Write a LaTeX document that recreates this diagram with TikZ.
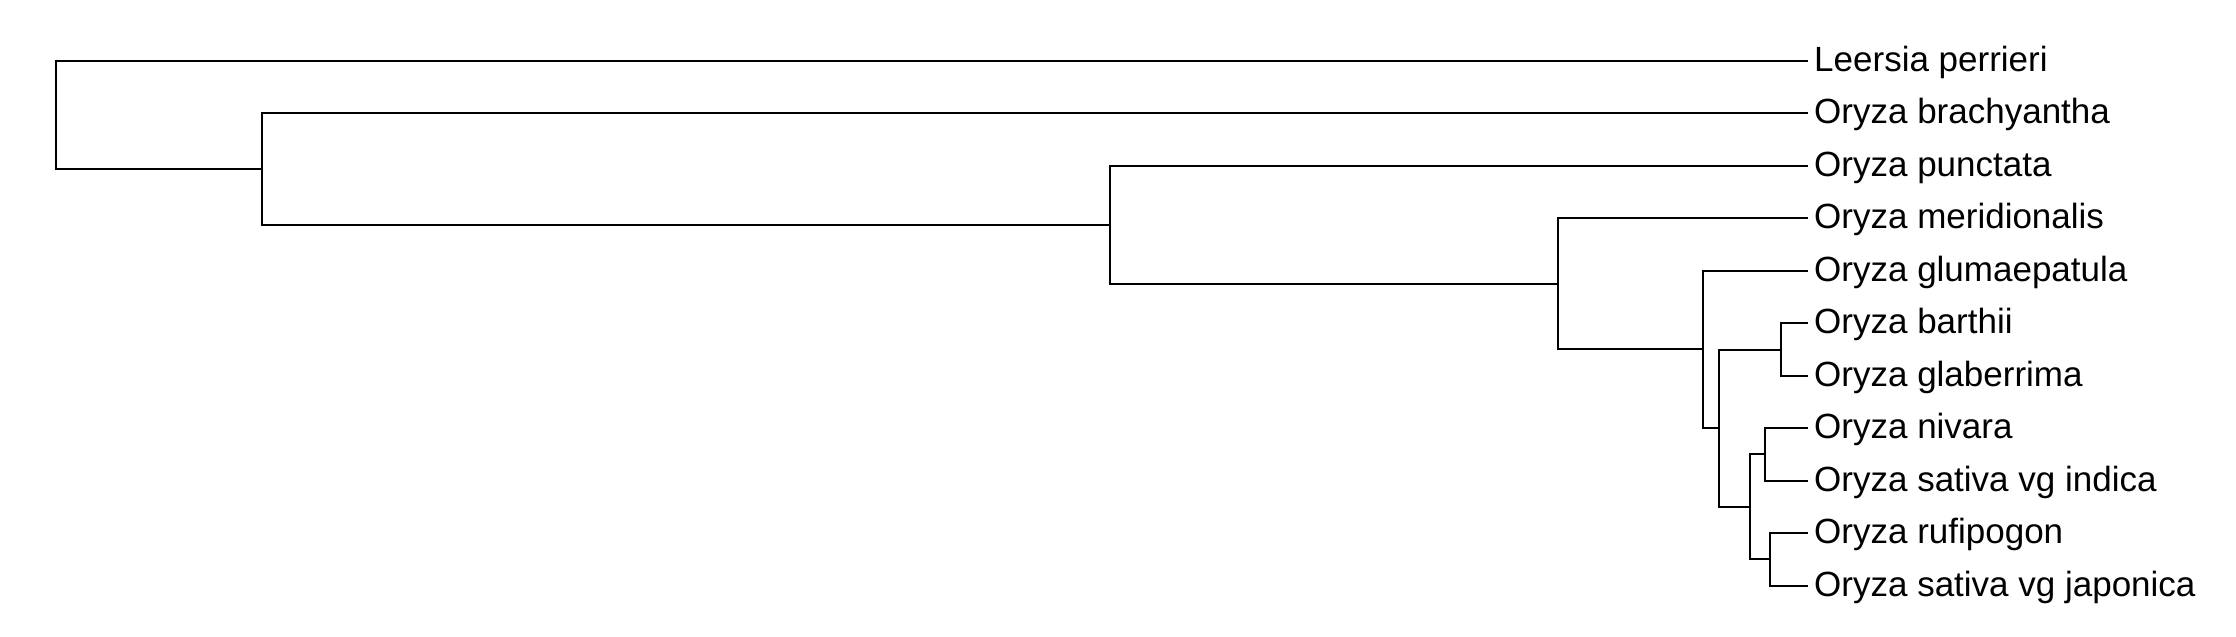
\documentclass[tikz,border=0pt]{standalone}
\usepackage{fontspec}
\setmainfont{Liberation Sans}
\begin{document}
\begin{tikzpicture}[x=1pt,y=-1pt,
  branch/.style={line width=2pt,line cap=rect},
  taxon/.style={anchor=west,inner xsep=7pt,inner ysep=0pt,
    text height=25pt,text depth=4pt,font=\fontsize{35}{42}\selectfont}]
\useasboundingbox (0,0) rectangle (2236,637);
% leaves, tips at x=1807
\node[taxon] (lper) at (1807,61) {Leersia perrieri};
\node[taxon] (obra) at (1807,113) {Oryza brachyantha};
\node[taxon] (opun) at (1807,166) {Oryza punctata};
\node[taxon] (omer) at (1807,218) {Oryza meridionalis};
\node[taxon] (oglu) at (1807,271) {Oryza glumaepatula};
\node[taxon] (obar) at (1807,323) {Oryza barthii};
\node[taxon] (ogla) at (1807,376) {Oryza glaberrima};
\node[taxon] (oniv) at (1807,428) {Oryza nivara};
\node[taxon] (oind) at (1807,481) {Oryza sativa vg indica};
\node[taxon] (oruf) at (1807,533) {Oryza rufipogon};
\node[taxon] (ojap) at (1807,586) {Oryza sativa vg japonica};
% internal nodes
\coordinate (root) at (56,115);
\coordinate (n2) at (262,169);
\coordinate (n3) at (1110,225);
\coordinate (n4) at (1558,284);
\coordinate (n5) at (1703,349);
\coordinate (n6) at (1719,428);
\coordinate (nafr) at (1781,350);
\coordinate (n7) at (1750,507);
\coordinate (nind) at (1765,454);
\coordinate (njap) at (1770,559);
% branches
\draw[branch] (root) |- (lper.west);
\draw[branch] (root) |- (n2);
\draw[branch] (n2) |- (obra.west);
\draw[branch] (n2) |- (n3);
\draw[branch] (n3) |- (opun.west);
\draw[branch] (n3) |- (n4);
\draw[branch] (n4) |- (omer.west);
\draw[branch] (n4) |- (n5);
\draw[branch] (n5) |- (oglu.west);
\draw[branch] (n5) |- (n6);
\draw[branch] (n6) |- (nafr);
\draw[branch] (n6) |- (n7);
\draw[branch] (nafr) |- (obar.west);
\draw[branch] (nafr) |- (ogla.west);
\draw[branch] (n7) |- (nind);
\draw[branch] (n7) |- (njap);
\draw[branch] (nind) |- (oniv.west);
\draw[branch] (nind) |- (oind.west);
\draw[branch] (njap) |- (oruf.west);
\draw[branch] (njap) |- (ojap.west);
\end{tikzpicture}
\end{document}
